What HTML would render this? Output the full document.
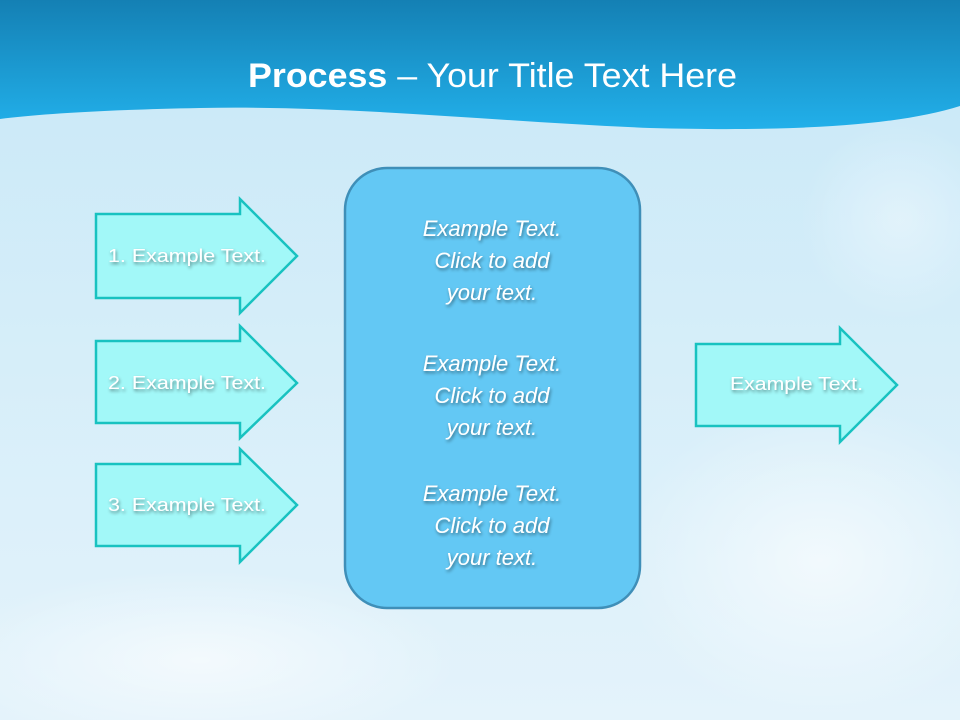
<!DOCTYPE html>
<html><head><style>
html,body{margin:0;padding:0}
body{width:960px;height:720px;overflow:hidden;position:relative;font-family:"Liberation Sans",sans-serif}
svg{position:absolute;left:0;top:0}
</style></head><body>
<svg width="960" height="720" viewBox="0 0 960 720">
<defs>
<linearGradient id="bg" x1="0" y1="0" x2="0" y2="1">
<stop offset="0" stop-color="#c8e8f8"/><stop offset="0.5" stop-color="#d6eef9"/><stop offset="1" stop-color="#e4f3fb"/>
</linearGradient>
<linearGradient id="hd" x1="0" y1="0" x2="0" y2="1">
<stop offset="0" stop-color="#1480b4"/><stop offset="1" stop-color="#22b0ea"/>
</linearGradient>
<radialGradient id="cl1" cx="0.5" cy="0.5" r="0.5"><stop offset="0" stop-color="#fff" stop-opacity="0.6"/><stop offset="1" stop-color="#fff" stop-opacity="0"/></radialGradient>
<filter id="sh" x="-20%" y="-50%" width="140%" height="200%"><feDropShadow dx="1" dy="2" stdDeviation="1.5" flood-color="#000" flood-opacity="0.45"/></filter>
</defs>
<rect width="960" height="720" fill="url(#bg)"/>
<ellipse cx="200" cy="660" rx="260" ry="90" fill="url(#cl1)"/>
<ellipse cx="820" cy="560" rx="200" ry="160" fill="url(#cl1)"/>
<ellipse cx="900" cy="220" rx="100" ry="100" fill="url(#cl1)" opacity="0.6"/>
<path d="M0 0H960V106C900 125 800 132 650 128C500 122 350 105 200 108C100 110 40 114 0 119Z" fill="url(#hd)"/>
<text x="248" y="87" fill="#fff" font-size="34" textLength="489" lengthAdjust="spacingAndGlyphs"><tspan font-weight="bold">Process</tspan> – Your Title Text Here</text>
<g fill="#a2f8f8" stroke="#18c2c0" stroke-width="2.5">
<path d="M96 214H240V199L297 256L240 313V298H96Z"/>
<path d="M96 341H240V326L297 383L240 438V423H96Z"/>
<path d="M96 464H240V449L297 505L240 562V546H96Z"/>
<path d="M696 344H840V328L897 385L840 442V426H696Z"/>
</g>
<rect x="345" y="168" width="295" height="440" rx="42" fill="#63c8f4" stroke="#3f8fb8" stroke-width="2.5"/>
<g fill="#fff" font-size="18" filter="url(#sh)">
<text x="108" y="262" textLength="158" lengthAdjust="spacingAndGlyphs">1. Example Text.</text>
<text x="108" y="389" textLength="158" lengthAdjust="spacingAndGlyphs">2. Example Text.</text>
<text x="108" y="511" textLength="158" lengthAdjust="spacingAndGlyphs">3. Example Text.</text>
<text x="730" y="390" textLength="133" lengthAdjust="spacingAndGlyphs">Example Text.</text>
</g>
<g fill="#fff" font-size="22" font-style="italic" filter="url(#sh)" text-anchor="middle">
<text x="492" y="236">Example Text.</text><text x="492" y="268">Click  to add</text><text x="492" y="300">your text.</text>
<text x="492" y="371">Example Text.</text><text x="492" y="403">Click  to add</text><text x="492" y="435">your text.</text>
<text x="492" y="501">Example Text.</text><text x="492" y="533">Click  to add</text><text x="492" y="565">your text.</text>
</g>
</svg>
</body></html>
